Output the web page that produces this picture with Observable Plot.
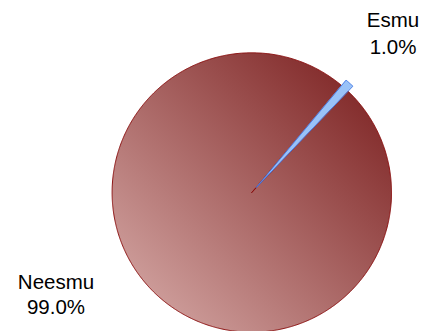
<!DOCTYPE html>
<html>
<head>
<meta charset="utf-8">
<script src="https://cdn.jsdelivr.net/npm/d3@7"></script>
<script src="https://cdn.jsdelivr.net/npm/@observablehq/plot@0.6"></script>
<style>
  html, body { margin: 0; padding: 0; background: #ffffff; }
  #chart { width: 422px; height: 331px; overflow: hidden; }
</style>
</head>
<body>
<div id="chart"></div>
<script>
// ---- data ----
const categories = ["Esmu", "Neesmu"];
const values = [1.0, 99.0];
const valueLabels = ["1.0%", "99.0%"];

// ---- layout ----
const W = 422, H = 331;
const CX = 251.3, CY = 192, R = 139.7;
const startDeg = 39.9;
const explode = { Esmu: 0.05, Neesmu: 0 };

const pie = d3.pie().sort(null).value(d => d.value).startAngle(startDeg * Math.PI / 180).endAngle((startDeg + 360) * Math.PI / 180);
const rows = categories.map((c, i) => ({ cat: c, value: values[i], label: valueLabels[i] }));
const arcs = pie(rows);

const pts = [];
for (const a of arcs) {
  const mid = (a.startAngle + a.endAngle) / 2;
  const off = explode[a.data.cat];
  const ox = off * Math.sin(mid), oy = off * Math.cos(mid);
  pts.push({ cat: a.data.cat, x: ox, y: oy });
  const n = Math.max(2, Math.ceil((a.endAngle - a.startAngle) / (0.4 * Math.PI / 180)));
  for (let k = 0; k <= n; k++) {
    const t = a.startAngle + (a.endAngle - a.startAngle) * k / n;
    pts.push({ cat: a.data.cat, x: ox + Math.sin(t), y: oy + Math.cos(t) });
  }
}

const labelText = d => d.cat + "\n" + d.label;

const plot = Plot.plot({
  width: W,
  height: H,
  margin: 0,
  style: { background: "transparent", fontFamily: "'Liberation Sans', Arial, sans-serif", overflow: "visible" },
  x: { domain: [(0 - CX) / R, (W - CX) / R], range: [0, W], axis: null },
  y: { domain: [(CY - H) / R, CY / R], range: [H, 0], axis: null },
  marks: [
    Plot.line(pts.filter(d => d.cat === "Neesmu"), { x: "x", y: "y", curve: "linear-closed", fill: "url(#neesmuGrad)", stroke: "#8b1010", strokeWidth: 1 }),
    Plot.line(pts.filter(d => d.cat === "Esmu"), { x: "x", y: "y", curve: "linear-closed", fill: "#99c2f8", stroke: "#4a7ee6", strokeWidth: 1 }),
    Plot.text(rows.filter(d => d.cat === "Esmu"), { text: labelText, frameAnchor: "top-left", textAnchor: "middle", lineAnchor: "top", dx: 392.5, dy: 7.5, fontSize: 20.5, lineHeight: 1.3, fill: "#000" }),
    Plot.text(rows.filter(d => d.cat === "Neesmu"), { text: labelText, frameAnchor: "top-left", textAnchor: "middle", lineAnchor: "top", dx: 55.5, dy: 271, fontSize: 20.5, lineHeight: 1.2, fill: "#000" })
  ]
});

const svg = d3.select(plot);
const defs = svg.insert("defs", ":first-child");
const g = defs.append("linearGradient").attr("id", "neesmuGrad")
  .attr("x1", 0).attr("y1", 1).attr("x2", 1).attr("y2", 0);
g.append("stop").attr("offset", "0%").attr("stop-color", "#dab0ad");
g.append("stop").attr("offset", "100%").attr("stop-color", "#761818");

document.getElementById("chart").appendChild(plot);
</script>
</body>
</html>
